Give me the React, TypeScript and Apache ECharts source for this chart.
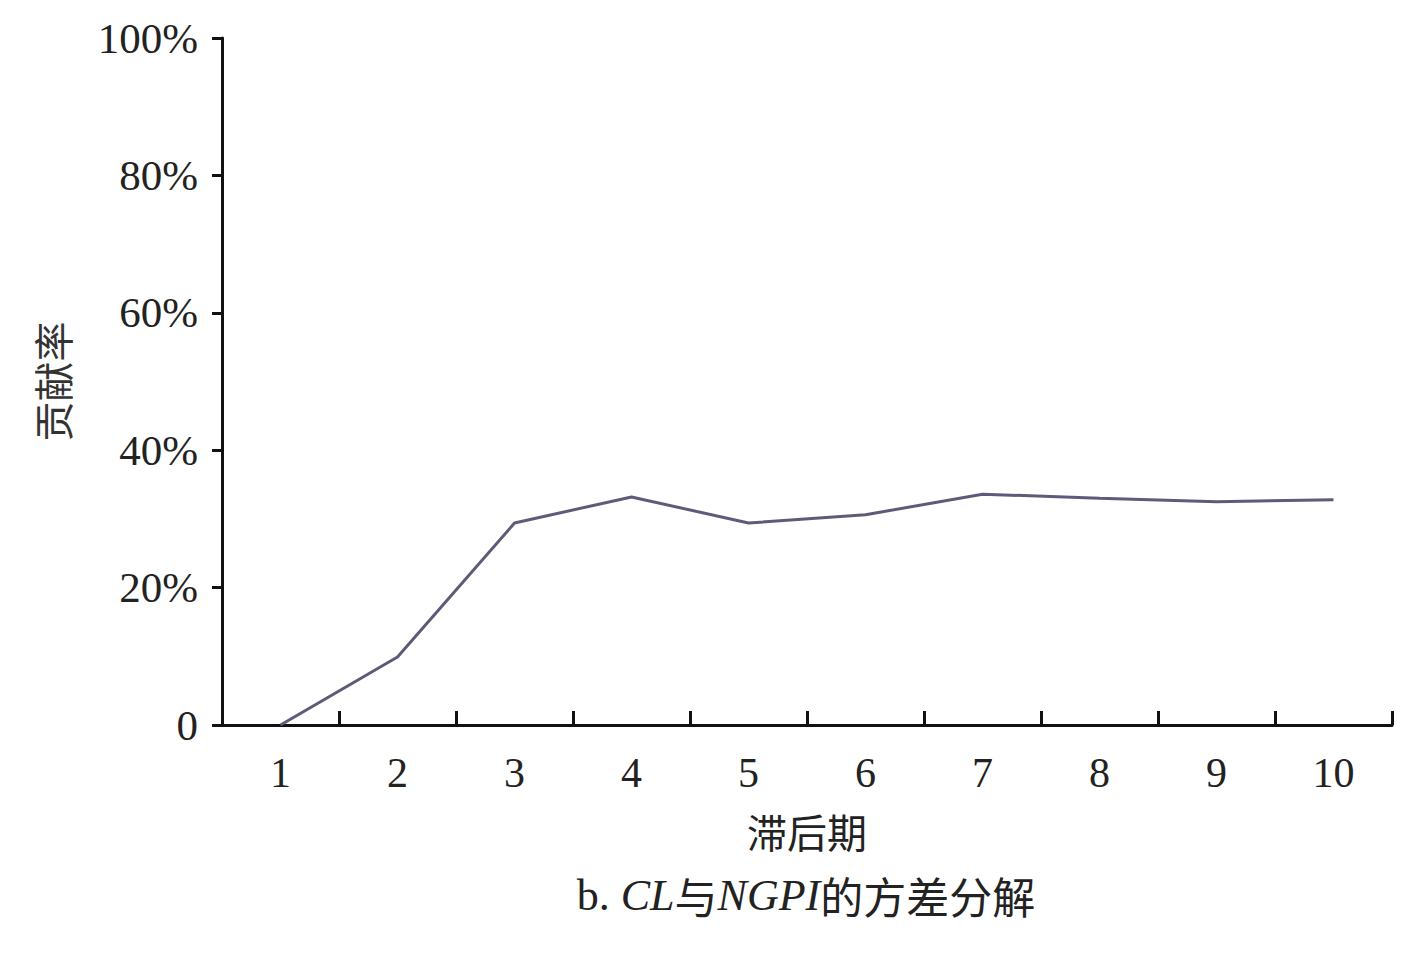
import React, { useEffect, useRef } from "react";
import * as echarts from "echarts";

const categories = ["1", "2", "3", "4", "5", "6", "7", "8", "9", "10"];
const contribution = [0, 9.9, 29.4, 33.2, 29.4, 30.6, 33.6, 33.0, 32.5, 32.8];
const yTicks = [0, 20, 40, 60, 80, 100];
const yAxisName = "贡献率";
const xAxisName = "滞后期";

const SERIF = "'Liberation Serif', 'DejaVu Serif', serif";
const CJK = "'Noto Sans CJK SC', sans-serif";

export default function App() {
  const ref = useRef<HTMLDivElement>(null);
  useEffect(() => {
    if (!ref.current) return;
    const chart = echarts.init(ref.current, undefined, { renderer: "svg" });
    chart.setOption({
      animation: false,
      backgroundColor: "#ffffff",
      grid: { left: 222, top: 38, right: 28, bottom: 233, containLabel: false },
      xAxis: {
        type: "category",
        data: categories,
        boundaryGap: true,
        name: xAxisName,
        nameLocation: "middle",
        nameGap: 86,
        nameTextStyle: { fontFamily: CJK, fontSize: 40, color: "#222" },
        axisLine: { show: true, lineStyle: { color: "#111", width: 3 } },
        axisTick: { show: true, inside: true, length: 14, lineStyle: { color: "#111", width: 3 } },
        axisLabel: { fontFamily: SERIF, fontSize: 42, color: "#222", margin: 27 },
        splitLine: { show: false },
      },
      yAxis: {
        type: "value",
        min: yTicks[0],
        max: yTicks[yTicks.length - 1],
        interval: 20,
        name: yAxisName,
        nameLocation: "middle",
        nameGap: 150,
        nameRotate: 90,
        nameTextStyle: { fontFamily: CJK, fontSize: 40, color: "#333" },
        axisLine: { show: true, lineStyle: { color: "#111", width: 3 } },
        axisTick: { show: true, inside: false, length: 10, lineStyle: { color: "#111", width: 3 } },
        axisLabel: {
          fontFamily: SERIF,
          fontSize: 43,
          color: "#222",
          margin: 24,
          formatter: (v: number) => (v === 0 ? "0" : v + "%"),
        },
        splitLine: { show: false },
      },
      series: [
        {
          type: "line",
          data: contribution,
          symbol: "none",
          lineStyle: { color: "#5c5c78", width: 3 },
        },
      ],
      graphic: [
        {
          type: "text",
          x: 806,
          y: 873,
          style: {
            text: "{n|b. }{i|CL}{c|与}{i|NGPI}{c|的方差分解}",
            align: "center",
            verticalAlign: "top",
            rich: {
              n: { fontFamily: SERIF, fontSize: 44, fill: "#222" },
              i: { fontFamily: SERIF, fontSize: 44, fontStyle: "italic", fill: "#222" },
              c: { fontFamily: CJK, fontSize: 43, fill: "#222" },
            },
          },
        },
      ],
    });
    return () => chart.dispose();
  }, []);
  return (
    <div
      ref={ref}
      style={{ position: "fixed", left: 0, top: 0, width: 1420, height: 958, background: "#fff" }}
    />
  );
}
